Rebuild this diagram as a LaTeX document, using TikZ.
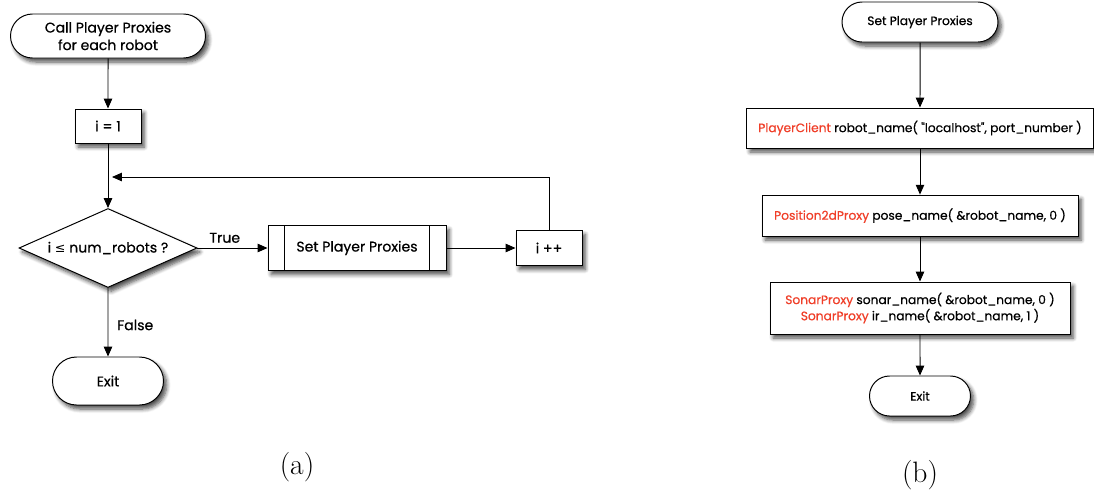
\documentclass[tikz,border=0pt]{standalone}
\usepackage{fontspec}
\newfontfamily\flowfont{Poppins}[FakeBold=0.6]
\newfontfamily\symfont{DejaVu Sans}
\usetikzlibrary{shapes.geometric,shapes.misc,arrows.meta,shadows.blur}
\definecolor{typered}{RGB}{240,62,40}
\tikzset{
    shade/.style={blur shadow={shadow xshift=0.8mm, shadow yshift=-1mm, shadow blur steps=6, shadow blur radius=1mm, shadow opacity=70}},
    terminal/.style={rounded rectangle, draw, fill=white, line width=0.7pt, shade, font=\flowfont\fontsize{10}{12.5}\selectfont, align=center, inner sep=0pt},
    procbox/.style={rectangle, draw, fill=white, line width=0.7pt, shade, font=\flowfont\fontsize{10}{12.5}\selectfont, align=center, inner sep=0pt},
    decision/.style={diamond, draw, fill=white, line width=0.7pt, shade, aspect=2.25, font=\flowfont\fontsize{10}{12.5}\selectfont, inner sep=0pt},
    flow/.style={line width=0.7pt, -{Triangle[length=7pt,width=6pt]}},
    small/.style={font=\flowfont\fontsize{8.7}{11.5}\selectfont},
    tag/.style={font=\flowfont\fontsize{10}{12}\selectfont}
}
\newcommand{\cls}[1]{\textcolor{typered}{#1}}
\begin{document}
\begin{tikzpicture}
    \useasboundingbox (0,0) rectangle (27.35,-12.4);
    % (a) loop over the robots
    \node[terminal, minimum width=4.875cm, minimum height=1.1cm] (start) at (2.7,-0.9) {Call Player Proxies\\for each robot};
    \node[procbox, minimum width=1.65cm, minimum height=0.85cm] (init) at (2.7,-3.15) {i = 1};
    \node[decision, minimum width=4.45cm, minimum height=1.975cm] (test) at (2.7,-6.2) {i {\symfont\fontsize{9}{11}\selectfont ≤} num\_robots ?};
    \node[procbox, minimum width=4.45cm, minimum height=1.125cm] (set) at (8.925,-6.2) {Set Player Proxies};
    \node[procbox, minimum width=1.65cm, minimum height=0.875cm] (inc) at (13.725,-6.2) {i ++};
    \node[terminal, minimum width=2.775cm, minimum height=1.2cm] (exita) at (2.7,-9.525) {Exit};
    \coordinate (join) at (2.8,-4.425);
    % side bars of the subroutine box
    \draw[line width=0.7pt] ([xshift=0.425cm]set.north west) -- ([xshift=0.425cm]set.south west);
    \draw[line width=0.7pt] ([xshift=-0.425cm]set.north east) -- ([xshift=-0.425cm]set.south east);

    \draw[flow] (start) -- (init);
    \draw[flow] (init) -- (test);
    \draw[flow] (test) -- node[tag, above, pos=0.39] {True} (set);
    \draw[flow] (set) -- (inc);
    \draw[flow] (inc.north) |- (join);
    \draw[flow] (test) -- node[tag, right, pos=0.54, xshift=1mm] {False} (exita);

    % (b) the proxies that get set up
    \node[terminal, small, minimum width=3.9cm, minimum height=1cm] (setb) at (23,-0.55) {Set Player Proxies};
    \node[procbox, small, minimum width=8.66cm, minimum height=1cm] (client) at (23,-3.2) {\cls{PlayerClient} robot\_name( "localhost", port\_number )};
    \node[procbox, small, minimum width=7.9cm, minimum height=1.025cm] (pose) at (23,-5.39) {\cls{Position2dProxy} pose\_name( \&robot\_name, 0 )};
    \node[procbox, small, minimum width=7.5cm, minimum height=1.3cm] (sonar) at (23,-7.7) {\cls{SonarProxy} sonar\_name( \&robot\_name, 0 )\\\cls{SonarProxy} ir\_name( \&robot\_name, 1 )};
    \node[terminal, small, minimum width=2.525cm, minimum height=1cm] (exitb) at (23,-9.9) {Exit};

    \draw[flow] (setb) -- (client);
    \draw[flow] (client) -- (pose);
    \draw[flow] (pose) -- (sonar);
    \draw[flow] (sonar) -- (exitb);

    \node[font=\fontsize{21}{24}\selectfont] (capa) at (7.425,-11.675) {(a)};
    \node[font=\fontsize{21}{24}\selectfont] (capb) at (23,-11.875) {(b)};
\end{tikzpicture}
\end{document}
